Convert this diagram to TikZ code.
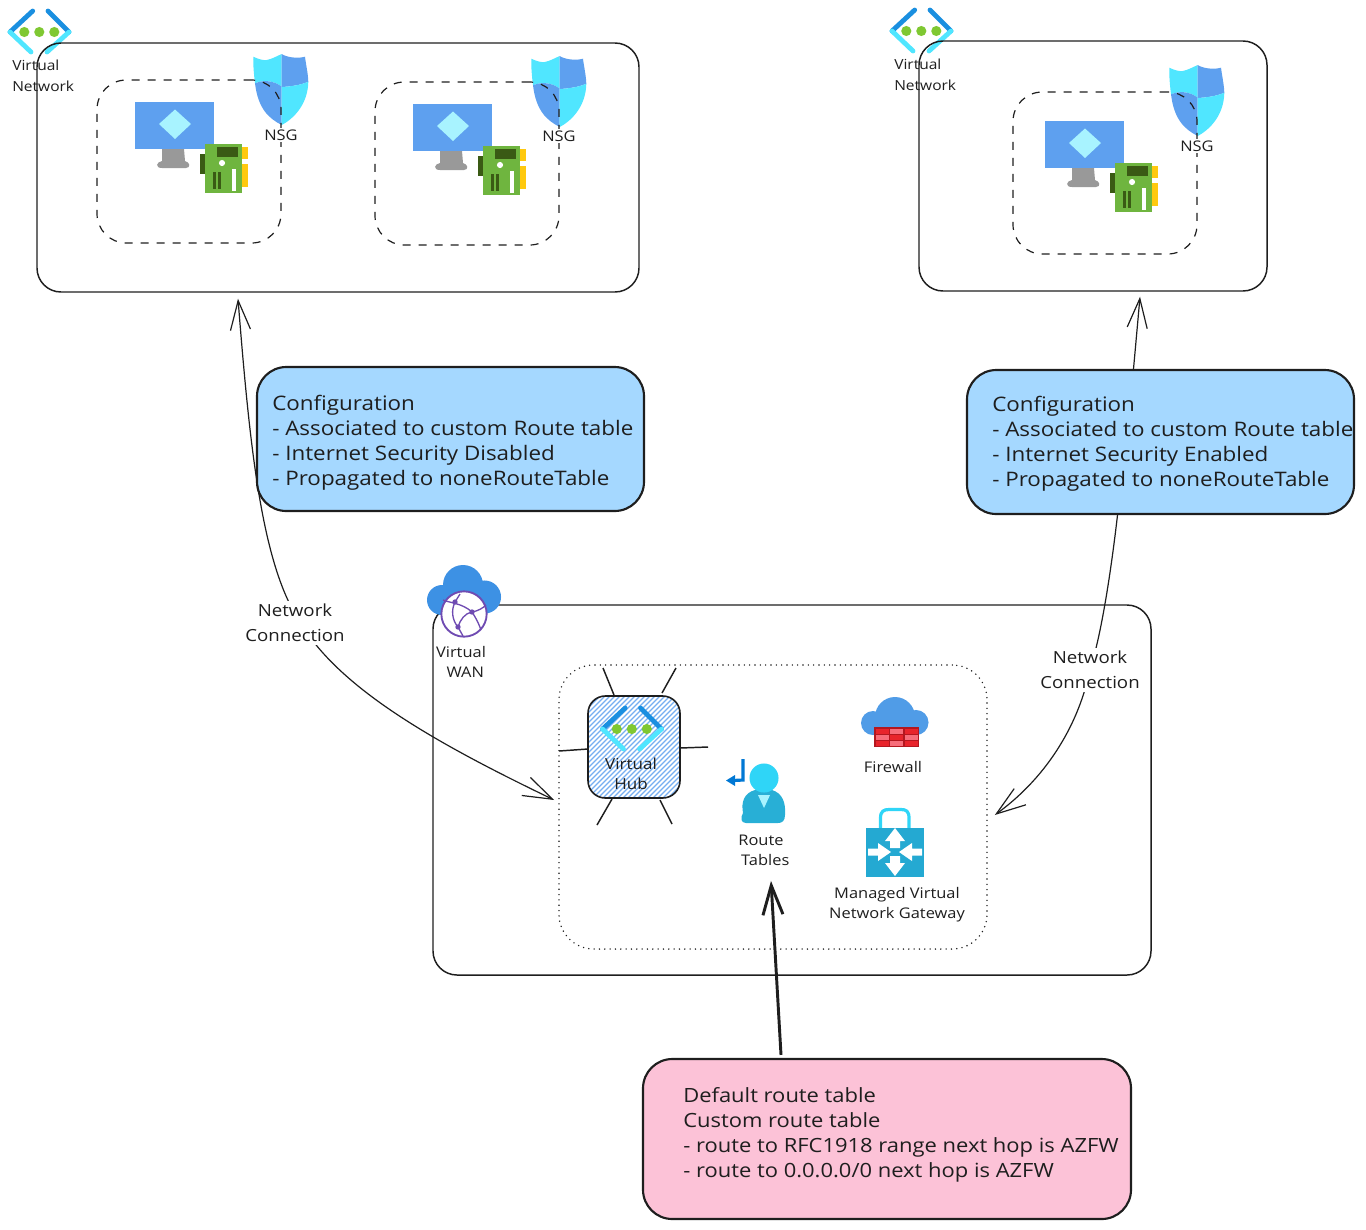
\documentclass[tikz,border=0pt]{standalone}
\usepackage{fontspec}
\setmainfont[FakeStretch=1.12]{Open Sans}
\usetikzlibrary{arrows.meta}
\definecolor{ink}{HTML}{1E1E1E}
\definecolor{cfgblue}{HTML}{A5D8FF}
\definecolor{pinkbox}{HTML}{FCC2D7}
\definecolor{azdark}{HTML}{1A8FE0}
\definecolor{azcyan}{HTML}{50E6FF}
\definecolor{azgreen}{HTML}{7FC832}
\definecolor{azmon}{HTML}{5EA0EF}
\definecolor{nicgreen}{HTML}{6FB53F}
\definecolor{nicdark}{HTML}{3A5A14}
\definecolor{nicyel}{HTML}{FFC90E}
\definecolor{cloudblue}{HTML}{3D91E4}
\definecolor{wanpurple}{HTML}{6F4BB2}
\definecolor{gwblue}{HTML}{24A9D2}
\definecolor{brick}{HTML}{E8242B}
\definecolor{brickd}{HTML}{B3171F}
\definecolor{brickl}{HTML}{F76D7A}
\definecolor{rtblue}{HTML}{0078D4}
\definecolor{rthead}{HTML}{2FD5F7}
\tikzset{
  box/.style={draw=ink,line width=1.1pt,rounded corners=18pt,inner sep=0pt},
  dashbox/.style={draw=ink,line width=0.9pt,rounded corners=22pt,inner sep=0pt,dash pattern=on 6pt off 6pt},
  dotbox/.style={draw=ink,line width=1.2pt,rounded corners=26pt,inner sep=0pt,line cap=round,dash pattern=on 0pt off 4pt},
  cfgbox/.style={draw=ink,line width=1.6pt,rounded corners=22pt,fill=cfgblue,inner sep=0pt},
  pinkb/.style={draw=ink,line width=1.6pt,rounded corners=22pt,fill=pinkbox,inner sep=0pt},
  bigtext/.style={anchor=west,align=left,text=ink,inner sep=0pt,font=\fontsize{15pt}{18.75pt}\selectfont},
  lab/.style={align=center,text=ink,inner sep=1pt,font=\fontsize{11pt}{15pt}\selectfont},
  lableft/.style={align=left,anchor=west,text=ink,inner sep=0pt,font=\fontsize{10.4pt}{15.6pt}\selectfont},
  conlab/.style={align=center,fill=white,text=ink,inner sep=2pt,font=\fontsize{12.5pt}{18.75pt}\selectfont},
  conn/.style={draw=ink,line width=0.9pt,-{Straight Barb[length=22pt,width=15pt]}},
  twoconn/.style={draw=ink,line width=0.9pt,{Straight Barb[length=22pt,width=15pt]}-{Straight Barb[length=22pt,width=15pt]}},
  thick conn/.style={draw=ink,line width=2.2pt,-{Straight Barb[length=22pt,width=15pt]}},
  ray/.style={draw=ink,line width=1.1pt},
  vneticon/.pic={
    \draw[azdark,line width=3.6pt,line cap=round] (32.7,11)--(10,32);
    \draw[azcyan,line width=3.6pt,line cap=round] (10,32)--(31,52);
    \draw[azdark,line width=3.6pt,line cap=round] (48,11)--(69,32);
    \draw[azcyan,line width=3.6pt,line cap=round] (69,32)--(47,52);
    \foreach \c in {24.3,39.3,54.3}{\fill[azgreen] (\c,32) circle (3.8pt);}
  },
  vmicon/.pic={
    \fill[gray!80] (27,47)--(49,47)--(50,59) .. controls (55,60) and (56,66) .. (51,66) -- (27,66) .. controls (20,66) and (21,60) .. (27,59) -- cycle;
    \fill[azmon] (0,0) rectangle (79,47);
    \fill[azcyan!50] (40,7.5)--(56,22)--(40,37)--(24,22)--cycle;
    \fill[nicdark] (65,52) rectangle (70,72);
    \fill[nicyel] (107,45) rectangle (113,57);
    \fill[nicyel] (107,62) rectangle (113,85);
    \fill[nicgreen] (70,42) rectangle (107,91);
    \fill[nicdark] (82,45) rectangle (103,55);
    \fill[white] (87,61) circle (2.3pt);
    \fill[nicdark] (78,70) rectangle (81,87);
    \fill[nicdark] (82.5,70) rectangle (86,87);
    \fill[white] (97,67) rectangle (101,89);
  },
  nsgicon/.pic={
    \fill[azcyan] (0.3,3.7) .. controls (5,6) and (10,7.5) .. (13.7,7) .. controls (19,6) and (24,3) .. (28.7,1) -- (28.7,33.7) .. controls (20,27) and (10,27) .. (2,30.3) .. controls (1,22) and (0,12) .. cycle;
    \fill[azmon] (28.7,1) .. controls (33,4) and (44,6) .. (52,3.7) .. controls (53,12) and (55,20) .. (55.3,28.7) .. controls (48,32) and (38,33.5) .. (28.7,34) -- cycle;
    \fill[azmon] (2,30.3) .. controls (10,27) and (20,27) .. (28.7,33.7) -- (28.7,72) .. controls (15,65) and (5,55) .. (2,30.3) -- cycle;
    \fill[azcyan] (28.7,34) .. controls (38,33.5) and (48,32) .. (55.3,28.7) .. controls (55,50) and (42,65) .. (28.7,72) -- cycle;
  },
}
\begin{document}
\begin{tikzpicture}[x=0.75pt,y=-0.75pt]
\useasboundingbox (0,0) rectangle (1366,1229);

% Virtual network icons
\pic at (0,0) {vneticon};
\pic at (882,-1) {vneticon};

% Boxes
\node[box,minimum width=451.5pt,minimum height=186.75pt] (vnet1) at (338,167.5) {};
\node[box,minimum width=261pt,minimum height=187.5pt] (vnet2) at (1093,166) {};
\node[box,minimum width=538.5pt,minimum height=277.5pt] (wan) at (792,790) {};
\node[dotbox,minimum width=321pt,minimum height=213pt] (hubgroup) at (773,807) {};

% NSG, VM
\pic at (253,53) {nsgicon};
\pic at (531,55) {nsgicon};
\pic at (1169,64) {nsgicon};
\node[dashbox,minimum width=138pt,minimum height=122.25pt] (subnet1) at (189,161.5) {};
\node[dashbox,minimum width=138pt,minimum height=122.25pt] (subnet2) at (467,163.5) {};
\node[dashbox,minimum width=138pt,minimum height=121.5pt] (subnet3) at (1105,173) {};
\pic at (135,102) {vmicon};
\pic at (413,104) {vmicon};
\pic at (1045,121) {vmicon};
\node[lab,fill=white] (nsg1) at (281,135) {NSG};
\node[lab,fill=white] (nsg2) at (559,136) {NSG};
\node[lab,fill=white] (nsg3) at (1197,146) {NSG};
\node[lableft] (vnetlab1) at (12,76) {Virtual\\Network};
\node[lableft] (vnetlab2) at (894,75) {Virtual\\Network};

% Config boxes
\node[cfgbox,minimum width=290.25pt,minimum height=108pt] (cfg1) at (450.5,439) {};
\node[cfgbox,minimum width=290.25pt,minimum height=108pt] (cfg2) at (1160.5,442) {};
\node[pinkb,minimum width=366pt,minimum height=120pt] (default) at (887,1139) {};
\node[bigtext] (cfg1text) at (272,443) {Configuration\\- Associated to custom Route table\\- Internet Security Disabled\\- Propagated to noneRouteTable};
\node[bigtext] (cfg2text) at (992,444) {Configuration\\- Associated to custom Route table\\- Internet Security Enabled\\- Propagated to noneRouteTable};
\node[bigtext,font=\fontsize{14.7pt}{18.75pt}\selectfont] (defaulttext) at (683,1135) {Default route table\\Custom route table\\- route to RFC1918 range next hop is AZFW\\- route to 0.0.0.0/0 next hop is AZFW};

% Virtual WAN icon
\fill[cloudblue] (463,585) circle (15pt);
\fill[cloudblue] (442,600) circle (11.25pt);
\fill[cloudblue] (484.5,597) circle (12.4pt);
\fill[cloudblue] (442,596) rectangle (484,614);
\draw[wanpurple,line width=1.4pt,fill=white] (464,614) circle (17pt);
\draw[wanpurple,line width=1pt] (443,600) .. controls (450,603) and (462,603) .. (472,612) .. controls (478,611) and (483,608) .. (486,605);
\draw[wanpurple,line width=1pt] (460,594) -- (455,602) .. controls (451,610) and (452,620) .. (458,627) -- (463,636);
\draw[wanpurple,line width=1pt] (458,627) .. controls (460,620) and (465,613) .. (472,612) .. controls (476,618) and (479,624) .. (481,630);
\fill[wanpurple] (472,612) circle (2pt);
\fill[wanpurple] (458,627) circle (2pt);
\fill[wanpurple] (455,602) circle (2pt);
\node[lab] (wanlab) at (461,662) {Virtual\\ \ \ WAN};

% Hub
\node[draw=ink,line width=1.2pt,rounded corners=13pt,inner sep=0pt,minimum width=69pt,minimum height=76.5pt,
  path picture={\foreach \i in {-110,-105,...,95}{\draw[azmon!85,line width=0.9pt] ([xshift=\i*0.75pt]path picture bounding box.south west) -- ++(112,-112);}}] (hub) at (634,747) {};
\draw[ray] ([shift={(-31,-79)}]hub.center) -- ([shift={(-20,-52)}]hub.center);
\draw[ray] ([shift={(42,-79)}]hub.center) -- ([shift={(28,-54)}]hub.center);
\draw[ray] ([shift={(-75,4)}]hub.center) -- ([shift={(-46,2)}]hub.center);
\draw[ray] ([shift={(46,1)}]hub.center) -- ([shift={(74,0)}]hub.center);
\draw[ray] ([shift={(-22,52)}]hub.center) -- ([shift={(-37,78)}]hub.center);
\draw[ray] ([shift={(26,53)}]hub.center) -- ([shift={(38,77)}]hub.center);
\pic at (592.5,697) {vneticon};
\node[lab,font=\fontsize{11.4pt}{15pt}\selectfont] (hublab) at (631,773.5) {Virtual\\Hub};

% Route tables icon
\draw[rtblue,line width=2.4pt] (743,759) -- (743,780) -- (733,780.5);
\fill[rtblue] (726,780.5) -- (735,775) -- (735,786) -- cycle;
\fill[gwblue!90!azcyan] (746,823) .. controls (741,823) and (740,818) .. (743,813) .. controls (741,802) and (744,793) .. (755,790) -- (772,790) .. controls (782,793) and (786,802) .. (785,815) .. controls (785,821) and (782,823) .. (778,823) -- cycle;
\fill[azcyan!50] (758,795) -- (770,795) -- (764,808) -- cycle;
\fill[rthead] (764,778) circle (10.9pt);
\node[lab] (routes) at (761,850) {Route\\\ \ Tables};

% Firewall icon
\fill[cloudblue!90!white] (895,717) circle (15pt);
\fill[cloudblue!90!white] (873,723) circle (9pt);
\fill[cloudblue!90!white] (916,722.5) circle (9.4pt);
\fill[cloudblue!90!white] (873,722) rectangle (916,735);
\fill[brickd] (874,727) rectangle (919,747);
\foreach \yy/\a/\b/\c in {729/brick/brickl/brick,735/brickl/brick/brickl,741/brick/brickl/brick}{
  \fill[\a] (875.5,\yy) rectangle (888.5,\yy+4.5);
  \fill[\b] (890,\yy) rectangle (903,\yy+4.5);
  \fill[\c] (904.5,\yy) rectangle (917.5,\yy+4.5);
}
\node[lab] (firewall) at (893,767) {Firewall};

% Gateway icon
\draw[rthead,line width=2.4pt] (880.5,829) -- (880.5,818) .. controls (880.5,811) and (884,809.5) .. (889,809.5) -- (901,809.5) .. controls (906,809.5) and (909,811) .. (909,818) -- (909,829);
\fill[gwblue] (866,828) rectangle (924,877);
\foreach \r in {0,180}{
  \fill[white,shift={(895,852)},rotate=\r] (0,-24) -- (10,-11) -- (5,-11) -- (5,-4) -- (-5,-4) -- (-5,-11) -- (-10,-11) -- cycle;
}
\foreach \r in {0,180}{
  \fill[white,shift={(895,852)},rotate=\r] (-27,-3.5) -- (-17,-3.5) -- (-17,-9) -- (-4,0) -- (-17,9) -- (-17,3.5) -- (-27,3.5) -- cycle;
}
\node[lab] (gateway) at (897,905) {Managed Virtual\\Network Gateway};

% Connectors
\draw[twoconn] ([shift={(-4,-7)}]hubgroup.west) .. controls (440,745) and (340,690) .. (300,622) .. controls (262,565) and (250,450) .. ([shift={(-100,6)}]vnet1.south);
\draw[conn] ([shift={(-27,0)}]cfg2.north) -- ([shift={(47,5)}]vnet2.south);
\draw[conn] ([shift={(-43,0)}]cfg2.south) .. controls (1110,580) and (1100,640) .. (1090,669) .. controls (1080,720) and (1050,775) .. ([shift={(7,8)}]hubgroup.east);
\draw[thick conn] ([shift={(-106,-3)}]default.north) -- ([shift={(10,14)}]routes.south);
\node[conlab] (net1) at (295,623) {Network\\Connection};
\node[conlab] (net2) at (1090,670) {Network\\Connection};
\end{tikzpicture}
\end{document}
